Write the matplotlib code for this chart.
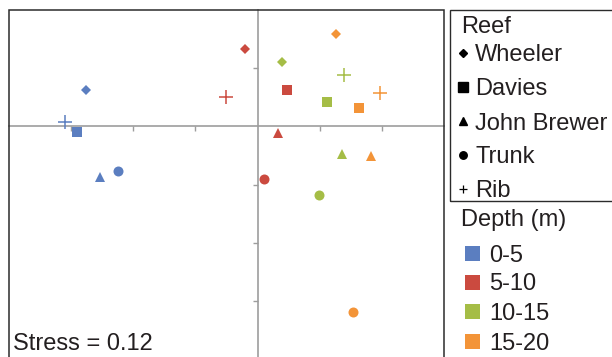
import matplotlib
matplotlib.use("Agg")
import matplotlib.pyplot as plt
from matplotlib.lines import Line2D
from matplotlib.patches import Rectangle

plt.rcParams['font.family'] = ['Liberation Sans', 'DejaVu Sans']

# ---- data (NMDS coordinates) ----
depths = ["0-5", "5-10", "10-15", "15-20"]
depth_colors = ["#5B7EC0", "#CB4A3F", "#A5BD46", "#F39438"]
reefs = ["Wheeler", "Davies", "John Brewer", "Trunk", "Rib"]

wheeler_x = [-0.276, -0.021, 0.039, 0.127]
wheeler_y = [0.062, 0.133, 0.110, 0.159]
davies_x = [-0.291, 0.047, 0.111, 0.163]
davies_y = [-0.009, 0.063, 0.042, 0.031]
brewer_x = [-0.254, 0.033, 0.136, 0.183]
brewer_y = [-0.087, -0.011, -0.047, -0.051]
trunk_x = [-0.224, 0.011, 0.099, 0.153]
trunk_y = [-0.076, -0.090, -0.118, -0.318]
rib_x = [-0.310, -0.051, 0.139, 0.197]
rib_y = [0.007, 0.050, 0.089, 0.057]

stress = 0.12

W, H = 612, 357
fig = plt.figure(figsize=(W / 100, H / 100), dpi=100)

def fx(px):
    return px / W

def fy(py):
    return 1 - py / H

# axes: x -0.4..0.3, y -0.4..0.2
left, right, top, bottom = 9, 444, 10, 359.3
ax = fig.add_axes([fx(left), fy(bottom), (right - left) / W, (bottom - top) / H])
ax.set_xlim(-0.4, 0.3)
ax.set_ylim(-0.4, 0.2)

for s in ['top', 'right']:
    ax.spines[s].set_visible(False)
ax.spines['left'].set_position('zero')
ax.spines['bottom'].set_position('zero')
for s in ['left', 'bottom']:
    ax.spines[s].set_color('#9d9d9d')
    ax.spines[s].set_linewidth(1.2)
    ax.spines[s].set_zorder(1)
ax.set_xticks([-0.3, -0.2, -0.1, 0.1, 0.2])
ax.set_yticks([-0.3, -0.2, -0.1, 0.1])
ax.tick_params(direction='out', length=3.5, width=1.0, color='#9d9d9d',
               labelbottom=False, labelleft=False)

ax.add_patch(Rectangle((0, 0), 1, 1, transform=ax.transAxes, fill=False,
                       edgecolor='#2b2b2b', linewidth=1.1, clip_on=False, zorder=5))

series = [
    (wheeler_x, wheeler_y, dict(marker='D', markersize=5.2)),
    (davies_x, davies_y, dict(marker='s', markersize=7.2)),
    (brewer_x, brewer_y, dict(marker='^', markersize=7.0)),
    (trunk_x, trunk_y, dict(marker='o', markersize=7.2)),
    (rib_x, rib_y, dict(marker='+', markersize=9.5, markeredgewidth=1.1)),
]
for xs, ys, st in series:
    for i in range(len(depths)):
        kw = dict(st)
        if kw['marker'] == '+':
            kw.update(color=depth_colors[i])
        else:
            kw.update(markerfacecolor=depth_colors[i], markeredgecolor=depth_colors[i],
                      markeredgewidth=0)
        ax.plot([xs[i]], [ys[i]], linestyle='none', zorder=3, **kw)

txt = '#231f20'
fs = 17
fig.text(fx(13), fy(350), f"Stress = {stress}", fontsize=fs, color=txt,
         va='baseline', ha='left')

# ---- Reef legend ----
fig.add_artist(Rectangle((fx(450), fy(201)), fx(620) - fx(450), fy(10) - fy(201),
                         transform=fig.transFigure, fill=False,
                         edgecolor='#2b2b2b', linewidth=1.0))
fig.text(fx(461), fy(33), "Reef", fontsize=fs, color=txt, va='baseline')
reef_marks = [dict(marker='D', markersize=4.4),
              dict(marker='s', markersize=6.5),
              dict(marker='^', markersize=6.0),
              dict(marker='o', markersize=5.4),
              dict(marker='+', markersize=6.0, markeredgewidth=0.9)]
reef_base = [61, 95, 129.5, 163.5, 197]
for name, mk, b in zip(reefs, reef_marks, reef_base):
    cy = b - 8.3
    fig.add_artist(Line2D([fx(463)], [fy(cy)], transform=fig.transFigure,
                          linestyle='none', color='black',
                          markerfacecolor='black', markeredgecolor='black', **mk))
    fig.text(fx(475), fy(b), name, fontsize=fs, color=txt, va='baseline')

# ---- Depth legend ----
fig.text(fx(461), fy(226), "Depth (m)", fontsize=fs, color=txt, va='baseline')
depth_centers = [253, 282, 311.5, 341]
for lab, col, cy in zip(depths, depth_colors, depth_centers):
    fig.add_artist(Rectangle((fx(464.5), fy(cy + 7.5)), 15 / W, 15 / H,
                             transform=fig.transFigure, facecolor=col,
                             edgecolor='none'))
    fig.text(fx(489), fy(cy + 8.5), lab, fontsize=fs, color=txt, va='baseline')

fig.savefig("out.png", dpi=100)
